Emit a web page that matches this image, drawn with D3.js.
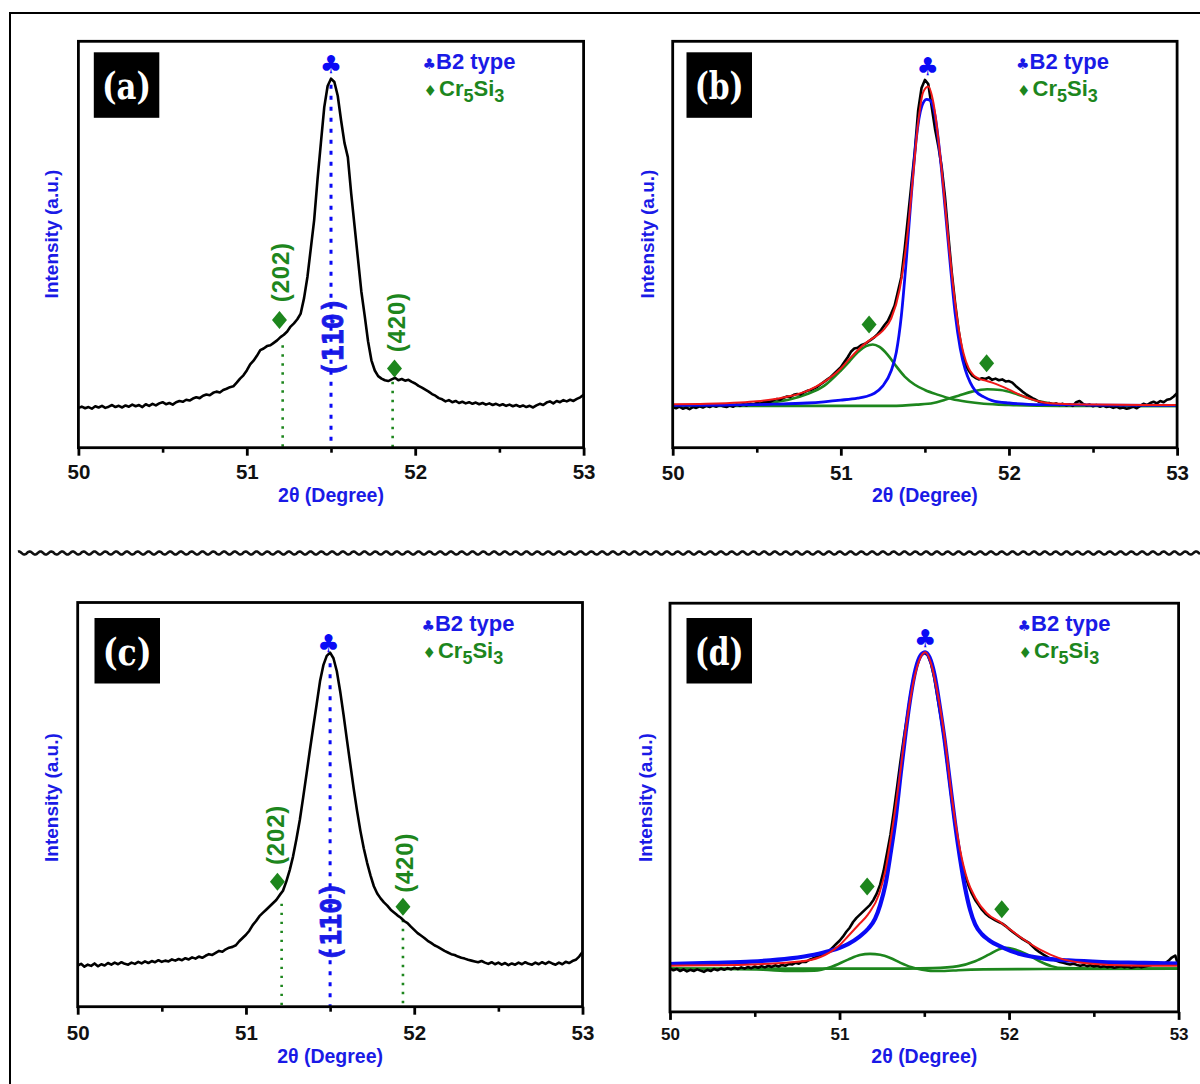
<!DOCTYPE html>
<html><head><meta charset="utf-8">
<script src="https://cdn.jsdelivr.net/npm/d3@7"></script>
<style>
html,body{margin:0;padding:0;background:#fff;}
svg{display:block;}
</style></head>
<body>
<svg id="fig" width="1200" height="1084"></svg>
<script>
// ---------------- DATA ----------------
const xTicks = [50, 51, 52, 53];
const xMinorTicks = [50.5, 51.5, 52.5];
const panelLabels = ["(a)", "(b)", "(c)", "(d)"];
const xTitle = "2θ (Degree)";
const yTitle = "Intensity (a.u.)";
const legendB2 = "B2 type";
const peakLabels = ["(202)", "(110)", "(420)"];

// (a) experimental
const aExp = [[50.00,98],[50.02,101],[50.04,97],[50.06,100],[50.08,96],[50.10,102],[50.12,99],[50.14,103],[50.16,98],[50.18,101],[50.20,105],[50.22,100],[50.24,103],[50.26,99],[50.28,104],[50.30,101],[50.32,106],[50.34,102],[50.36,105],[50.38,100],[50.40,107],[50.42,103],[50.44,108],[50.46,104],[50.48,109],[50.50,112],[50.52,107],[50.54,110],[50.56,106],[50.58,112],[50.60,115],[50.62,113],[50.64,118],[50.66,116],[50.68,121],[50.70,124],[50.72,122],[50.74,128],[50.76,131],[50.78,129],[50.80,135],[50.82,138],[50.84,136],[50.86,142],[50.88,145],[50.90,149],[50.92,151],[50.94,160],[50.96,170],[50.98,178],[51.00,190],[51.02,205],[51.04,214],[51.06,226],[51.08,240],[51.10,244],[51.12,250],[51.14,252],[51.16,258],[51.18,264],[51.20,272],[51.22,278],[51.24,286],[51.26,298],[51.28,306],[51.30,316],[51.32,330],[51.34,368],[51.36,420],[51.38,490],[51.40,560],[51.42,660],[51.44,750],[51.46,838],[51.48,890],[51.50,908],[51.52,900],[51.54,866],[51.56,805],[51.58,750],[51.60,715],[51.62,625],[51.64,545],[51.66,465],[51.68,385],[51.70,325],[51.72,262],[51.74,215],[51.76,190],[51.78,176],[51.80,170],[51.82,166],[51.84,164],[51.86,168],[51.88,172],[51.90,166],[51.92,169],[51.94,165],[51.96,167],[51.98,162],[52.00,158],[52.02,152],[52.04,148],[52.06,143],[52.08,138],[52.10,132],[52.12,128],[52.14,122],[52.16,119],[52.18,114],[52.20,117],[52.22,112],[52.24,115],[52.26,110],[52.28,113],[52.30,109],[52.32,112],[52.34,108],[52.36,111],[52.38,107],[52.40,110],[52.42,106],[52.44,109],[52.46,105],[52.48,108],[52.50,104],[52.52,107],[52.54,103],[52.56,106],[52.58,102],[52.60,105],[52.62,101],[52.64,104],[52.66,100],[52.68,103],[52.70,99],[52.72,104],[52.74,108],[52.76,105],[52.78,111],[52.80,114],[52.82,109],[52.84,115],[52.86,112],[52.88,117],[52.90,114],[52.92,118],[52.94,115],[52.96,120],[52.98,124],[53.00,130]];

// (b) experimental + fits
const bExp = [[50.00,100],[50.02,97],[50.04,101],[50.06,96],[50.08,99],[50.10,95],[50.12,100],[50.14,98],[50.16,102],[50.18,99],[50.20,103],[50.22,100],[50.24,104],[50.26,101],[50.28,105],[50.30,102],[50.32,100],[50.34,104],[50.36,101],[50.38,106],[50.40,103],[50.42,107],[50.44,104],[50.46,108],[50.48,106],[50.50,110],[50.52,108],[50.54,112],[50.56,114],[50.58,113],[50.60,117],[50.62,120],[50.64,118],[50.66,123],[50.68,126],[50.70,125],[50.72,130],[50.74,132],[50.76,131],[50.78,136],[50.80,140],[50.82,142],[50.84,146],[50.86,150],[50.88,156],[50.90,162],[50.92,168],[50.94,174],[50.96,182],[50.98,190],[51.00,198],[51.02,210],[51.04,222],[51.06,236],[51.08,244],[51.10,246],[51.12,252],[51.14,255],[51.16,260],[51.18,266],[51.20,272],[51.22,280],[51.24,290],[51.26,302],[51.28,312],[51.30,330],[51.32,350],[51.34,385],[51.36,420],[51.38,490],[51.40,570],[51.42,650],[51.44,730],[51.46,830],[51.48,885],[51.50,905],[51.52,895],[51.54,840],[51.56,785],[51.58,742],[51.60,690],[51.62,615],[51.64,520],[51.66,430],[51.68,355],[51.70,290],[51.72,240],[51.74,205],[51.76,190],[51.78,178],[51.80,172],[51.82,168],[51.84,171],[51.86,169],[51.88,173],[51.90,167],[51.92,170],[51.94,166],[51.96,168],[51.98,163],[52.00,164],[52.02,160],[52.04,152],[52.06,145],[52.08,138],[52.10,132],[52.12,127],[52.14,122],[52.16,118],[52.18,113],[52.20,111],[52.22,108],[52.24,110],[52.26,106],[52.28,109],[52.30,105],[52.32,108],[52.34,104],[52.36,107],[52.38,103],[52.40,112],[52.42,115],[52.44,108],[52.46,104],[52.48,106],[52.50,102],[52.52,105],[52.54,101],[52.56,104],[52.58,100],[52.60,102],[52.62,98],[52.64,101],[52.66,97],[52.68,99],[52.70,96],[52.72,98],[52.74,101],[52.76,97],[52.78,103],[52.80,108],[52.82,105],[52.84,110],[52.86,113],[52.88,109],[52.90,115],[52.92,112],[52.94,118],[52.96,120],[52.98,126],[53.00,134]];
const bFitSum = [[50.0,107],[50.2,108],[50.4,111],[50.5,114],[50.6,119],[50.7,127],[50.8,140],[50.9,162],[51.0,195],[51.05,218],[51.1,240],[51.15,258],[51.2,272],[51.25,288],[51.3,318],[51.35,390],[51.4,540],[51.43,670],[51.46,800],[51.49,875],[51.52,889],[51.55,850],[51.58,760],[51.61,640],[51.64,510],[51.67,390],[51.70,295],[51.73,232],[51.76,196],[51.79,178],[51.82,170],[51.86,165],[51.90,160],[51.95,152],[52.0,143],[52.05,133],[52.1,124],[52.15,117],[52.2,112],[52.3,108],[52.5,106],[52.8,105],[53.0,105]];
const bFitB2 = [[50.0,104],[50.3,105],[50.6,107],[50.8,110],[50.9,113],[51.0,117],[51.1,122],[51.15,126],[51.2,134],[51.25,152],[51.3,190],[51.33,235],[51.36,325],[51.39,465],[51.42,625],[51.45,765],[51.48,838],[51.51,857],[51.53,855],[51.56,818],[51.59,720],[51.62,590],[51.65,455],[51.68,330],[51.71,245],[51.74,192],[51.77,160],[51.80,140],[51.85,125],[51.90,116],[52.0,110],[52.2,106],[52.5,105],[53.0,104]];
const bFitCr202 = [[50.0,103],[50.2,104],[50.4,106],[50.5,108],[50.6,112],[50.7,119],[50.8,132],[50.9,152],[51.0,190],[51.05,212],[51.1,235],[51.15,250],[51.19,254],[51.23,248],[51.28,228],[51.33,200],[51.38,175],[51.44,155],[51.5,142],[51.58,130],[51.66,120],[51.75,113],[51.85,108],[52.0,105],[52.3,103],[53.0,103]];
const bFitCr420 = [[50.0,103],[50.5,103],[51.0,103],[51.3,103],[51.45,106],[51.55,110],[51.62,118],[51.7,128],[51.78,138],[51.87,144],[51.95,142],[52.03,134],[52.1,124],[52.18,114],[52.26,108],[52.4,104],[52.7,103],[53.0,103]];

// (c) experimental
const cExp = [[50.00,102],[50.02,106],[50.04,99],[50.06,104],[50.08,101],[50.10,107],[50.12,100],[50.14,105],[50.16,102],[50.18,108],[50.20,104],[50.22,109],[50.24,105],[50.26,110],[50.28,106],[50.30,104],[50.32,109],[50.34,106],[50.36,111],[50.38,107],[50.40,112],[50.42,108],[50.44,113],[50.46,110],[50.48,115],[50.50,111],[50.52,114],[50.54,112],[50.56,117],[50.58,114],[50.60,118],[50.62,115],[50.64,120],[50.66,117],[50.68,122],[50.70,119],[50.72,124],[50.74,121],[50.76,126],[50.78,130],[50.80,128],[50.82,133],[50.84,138],[50.86,136],[50.88,142],[50.90,146],[50.92,148],[50.94,152],[50.96,162],[50.98,170],[51.00,178],[51.02,188],[51.04,202],[51.06,212],[51.08,224],[51.10,232],[51.12,240],[51.14,248],[51.16,256],[51.18,264],[51.20,276],[51.22,287],[51.24,310],[51.26,338],[51.28,372],[51.30,415],[51.32,462],[51.34,518],[51.36,576],[51.38,635],[51.40,692],[51.42,748],[51.44,805],[51.46,845],[51.48,868],[51.50,876],[51.52,862],[51.54,830],[51.56,780],[51.58,722],[51.60,660],[51.62,600],[51.64,540],[51.66,485],[51.68,435],[51.70,392],[51.72,356],[51.74,325],[51.76,298],[51.78,280],[51.80,268],[51.82,258],[51.84,250],[51.86,240],[51.88,233],[51.90,226],[51.92,220],[51.94,212],[51.96,207],[51.98,198],[52.00,190],[52.02,182],[52.04,176],[52.06,170],[52.08,163],[52.10,158],[52.12,152],[52.14,148],[52.16,143],[52.18,138],[52.20,134],[52.22,130],[52.24,128],[52.26,124],[52.28,121],[52.30,119],[52.32,116],[52.34,114],[52.36,112],[52.38,110],[52.40,113],[52.42,109],[52.44,106],[52.46,110],[52.48,105],[52.50,109],[52.52,104],[52.54,108],[52.56,103],[52.58,107],[52.60,104],[52.62,109],[52.64,105],[52.66,110],[52.68,106],[52.70,104],[52.72,109],[52.74,105],[52.76,110],[52.78,106],[52.80,111],[52.82,107],[52.84,104],[52.86,109],[52.88,105],[52.90,111],[52.92,108],[52.94,113],[52.96,116],[52.98,124],[53.00,135]];

// (d) experimental + fits
const dExp = [[50.00,106],[50.02,102],[50.04,105],[50.06,100],[50.08,104],[50.10,99],[50.12,103],[50.14,100],[50.16,104],[50.18,101],[50.20,98],[50.22,103],[50.24,100],[50.26,105],[50.28,102],[50.30,106],[50.32,103],[50.34,107],[50.36,104],[50.38,108],[50.40,105],[50.42,109],[50.44,106],[50.46,110],[50.48,107],[50.50,111],[50.52,108],[50.54,112],[50.56,109],[50.58,113],[50.60,110],[50.62,114],[50.64,111],[50.66,115],[50.68,113],[50.70,117],[50.72,116],[50.74,120],[50.76,118],[50.78,123],[50.80,122],[50.82,127],[50.84,130],[50.86,134],[50.88,138],[50.90,141],[50.92,146],[50.94,150],[50.96,158],[50.98,166],[51.00,174],[51.02,184],[51.04,196],[51.06,206],[51.08,220],[51.10,230],[51.12,238],[51.14,246],[51.16,254],[51.18,262],[51.20,274],[51.22,290],[51.24,312],[51.26,345],[51.28,388],[51.30,433],[51.32,490],[51.34,552],[51.36,615],[51.38,672],[51.40,725],[51.42,780],[51.44,824],[51.46,853],[51.48,872],[51.50,879],[51.52,873],[51.54,852],[51.56,815],[51.58,764],[51.60,715],[51.62,662],[51.64,592],[51.66,525],[51.68,462],[51.70,412],[51.72,368],[51.74,335],[51.76,310],[51.78,290],[51.80,274],[51.82,262],[51.84,250],[51.86,241],[51.88,234],[51.90,229],[51.92,224],[51.94,220],[51.96,216],[51.98,210],[52.00,203],[52.02,196],[52.04,190],[52.06,184],[52.08,178],[52.10,173],[52.12,168],[52.14,160],[52.16,152],[52.18,146],[52.20,141],[52.22,136],[52.24,131],[52.26,128],[52.28,125],[52.30,122],[52.32,120],[52.34,118],[52.36,116],[52.38,118],[52.40,115],[52.42,113],[52.44,115],[52.46,112],[52.48,114],[52.50,111],[52.52,113],[52.54,110],[52.56,112],[52.58,109],[52.60,111],[52.62,108],[52.64,110],[52.66,112],[52.68,109],[52.70,111],[52.72,108],[52.74,110],[52.76,112],[52.78,109],[52.80,111],[52.82,113],[52.84,115],[52.86,118],[52.88,120],[52.90,116],[52.92,119],[52.94,125],[52.96,133],[52.98,138],[53.00,112]];
const dFitSum = [[50.0,113],[50.25,114],[50.48,116],[50.7,121],[50.83,127],[50.94,145],[51.0,163],[51.05,185],[51.11,212],[51.167,238],[51.234,289],[51.27,345],[51.30,418],[51.35,560],[51.395,704],[51.44,815],[51.475,865],[51.506,880],[51.54,852],[51.57,798],[51.62,671],[51.665,517],[51.71,399],[51.755,322],[51.80,280],[51.867,242],[51.957,217],[52.07,182],[52.18,153],[52.3,131],[52.43,120],[52.6,115],[52.8,113],[53.0,113]];
const dFitB2 = [[50.0,117],[50.25,120],[50.48,123],[50.71,131],[50.85,140],[50.94,149],[51.05,166],[51.12,185],[51.17,204],[51.21,228],[51.24,262],[51.27,310],[51.30,385],[51.33,470],[51.36,580],[51.39,685],[51.42,775],[51.45,840],[51.48,873],[51.505,880],[51.53,868],[51.56,825],[51.59,750],[51.62,665],[51.65,565],[51.68,465],[51.71,378],[51.74,305],[51.77,250],[51.80,214],[51.84,190],[51.88,176],[51.96,158],[52.07,141],[52.2,131],[52.35,126],[52.55,122],[52.8,120],[53.0,118]];
const dFitCr202 = [[50.0,106],[50.3,105],[50.55,103],[50.72,100],[50.85,101],[50.95,110],[51.05,128],[51.12,139],[51.18,142],[51.24,140],[51.3,132],[51.36,120],[51.42,110],[51.48,104],[51.55,100],[51.62,100],[51.7,102],[51.85,104],[52.2,105],[53.0,106]];
const dFitCr420 = [[50.0,106],[50.5,106],[51.0,106],[51.4,106],[51.55,107],[51.7,112],[51.8,124],[51.88,140],[51.94,153],[51.98,157],[52.03,153],[52.1,142],[52.18,124],[52.25,112],[52.32,107],[52.5,106],[53.0,106]];

// ---------------- STYLE / LAYOUT ----------------
const BLUE_TXT = "#1a1ae6", GREEN = "#1d861d", BLUE = "#0a0af5", RED = "#f01818", BLACK = "#000";
const SANS = "'Liberation Sans', Arial, sans-serif";

const panels = [
  {label:panelLabels[0], left:78.4, right:583.6, top:41.3, bottom:447.7, tickPad:9, tickFont:20.5,
   box:[15.4,11], yT:[51.7,234], xTy:502,
   exp:aExp, fits:null,
   club:[51.5,942], diamonds:[[51.194,314],[51.877,195]],
   blueLine:[51.5,893], greenLines:[[51.213,252],[51.866,162]],
   lab202:[51.203,432], lab420:[51.886,309], lab110:[51.51,272]},
  {label:panelLabels[1], left:672.7, right:1177.1, top:41.3, bottom:447.7, tickPad:9.5, tickFont:20.5,
   box:[13.8,11], yT:[647.8,234], xTy:502,
   exp:bExp, fits:{sum:bFitSum, b2:bFitB2, g1:bFitCr202, g2:bFitCr420, b2w:2.8},
   club:[51.517,939], diamonds:[[51.168,303],[51.867,208]]},
  {label:panelLabels[2], left:77.7, right:582.5, top:602.5, bottom:1006.7, tickPad:11, tickFont:20.5,
   box:[16.8,15.5], yT:[51.7,797.6], xTy:1063,
   exp:cExp, fits:null,
   club:[51.49,899], diamonds:[[51.187,309],[51.933,247]],
   blueLine:[51.5,850], greenLines:[[51.212,255],[51.933,215]],
   lab202:[51.175,425], lab420:[51.944,356], lab110:[51.505,210]},
  {label:panelLabels[3], left:670, right:1178.6, top:603.2, bottom:1011.9, tickPad:8.3, tickFont:17,
   box:[16.5,14.8], yT:[645.9,797.6], xTy:1063,
   exp:dExp, fits:{sum:dFitSum, b2:dFitB2, g1:dFitCr202, g2:dFitCr420, b2w:4.2},
   club:[51.506,913], diamonds:[[51.163,307],[51.957,251]]}
];

const svg = d3.select("#fig");
svg.append("rect").attr("width",1200).attr("height",1084).attr("fill","#fff");

// outer border (left & top only visible)
svg.append("path").attr("d","M10,1084 L10,13 L1200,13").attr("fill","none").attr("stroke","#000").attr("stroke-width",2);

// wavy separator
(function(){
  const pts = [];
  for (let xx = 18; xx <= 1200; xx += 0.5) pts.push([xx, 553 + 1.5*Math.sin(2*Math.PI*xx/10.8)]);
  svg.append("path").attr("d", d3.line()(pts)).attr("fill","none").attr("stroke","#111").attr("stroke-width",2.6);
})();

function diamondPath(cx, cy, hw, hh){
  const p = d3.path();
  p.moveTo(cx, cy-hh); p.lineTo(cx+hw, cy); p.lineTo(cx, cy+hh); p.lineTo(cx-hw, cy); p.closePath();
  return p.toString();
}

panels.forEach(cfg => {
  const x = d3.scaleLinear().domain([50,53]).range([cfg.left, cfg.right]);
  const y = d3.scaleLinear().domain([0,1000]).range([cfg.bottom, cfg.top]);
  const g = svg.append("g");

  g.append("rect").attr("x",cfg.left).attr("y",cfg.top)
    .attr("width",cfg.right-cfg.left).attr("height",cfg.bottom-cfg.top)
    .attr("fill","#fff");

  const line = d3.line().x(d=>x(d[0])).y(d=>y(d[1]));
  const smooth = d3.line().x(d=>x(d[0])).y(d=>y(d[1])).curve(d3.curveMonotoneX);

  if (cfg.lab110) {
    g.append("text").text(peakLabels[1])
      .attr("transform",`translate(${x(cfg.lab110[0])},${y(cfg.lab110[1])}) rotate(-90)`)
      .attr("text-anchor","middle").attr("dominant-baseline","central")
      .attr("font-family","'DejaVu Sans Mono','Liberation Mono',monospace").attr("font-weight","bold")
      .attr("font-size",29).attr("textLength",80).attr("lengthAdjust","spacingAndGlyphs")
      .attr("stroke",BLUE_TXT).attr("stroke-width",0.9).attr("fill",BLUE_TXT);
    g.append("line").attr("x1",x(cfg.blueLine[0])).attr("x2",x(cfg.blueLine[0]))
      .attr("y1",y(cfg.blueLine[1])).attr("y2",y(0))
      .attr("stroke",BLUE).attr("stroke-width",3).attr("stroke-dasharray","4,7");
    cfg.greenLines.forEach(gl => {
      g.append("line").attr("x1",x(gl[0])).attr("x2",x(gl[0]))
        .attr("y1",y(gl[1])).attr("y2",y(0))
        .attr("stroke",GREEN).attr("stroke-width",2.6).attr("stroke-dasharray","2.4,6.6");
    });
    [[peakLabels[0],cfg.lab202],[peakLabels[2],cfg.lab420]].forEach(([t,p]) => {
      g.append("text").text(t)
        .attr("transform",`translate(${x(p[0])},${y(p[1])}) rotate(-90)`)
        .attr("text-anchor","middle").attr("dominant-baseline","central")
        .attr("font-family",SANS).attr("font-weight","bold")
        .attr("font-size",24).attr("letter-spacing",0.8).attr("fill",GREEN);
    });
  }

  // curves
  if (cfg.fits) {
    g.append("path").attr("d",smooth(cfg.fits.g1)).attr("fill","none").attr("stroke",GREEN).attr("stroke-width",2.6);
    g.append("path").attr("d",smooth(cfg.fits.g2)).attr("fill","none").attr("stroke",GREEN).attr("stroke-width",2.6);
  }
  g.append("path").attr("d",line(cfg.exp)).attr("fill","none").attr("stroke",BLACK)
    .attr("stroke-width",2.6).attr("stroke-linejoin","round");
  if (cfg.fits) {
    g.append("path").attr("d",smooth(cfg.fits.b2)).attr("fill","none").attr("stroke",BLUE).attr("stroke-width",cfg.fits.b2w);
    g.append("path").attr("d",smooth(cfg.fits.sum)).attr("fill","none").attr("stroke",RED).attr("stroke-width",2);
  }

  // diamonds on peaks
  cfg.diamonds.forEach(dm => {
    g.append("path").attr("d",diamondPath(x(dm[0]), y(dm[1]), 7.5, 9)).attr("fill",GREEN);
  });
  // club above main peak
  g.append("text").text("♣").attr("x",x(cfg.club[0])).attr("y",y(cfg.club[1]))
    .attr("text-anchor","middle").attr("dominant-baseline","central")
    .attr("font-family","'DejaVu Sans',sans-serif").attr("font-size",25).attr("fill",BLUE);

  // frame
  g.append("rect").attr("x",cfg.left).attr("y",cfg.top)
    .attr("width",cfg.right-cfg.left).attr("height",cfg.bottom-cfg.top)
    .attr("fill","none").attr("stroke","#000").attr("stroke-width",2.8);

  // axes
  const ax = d3.axisBottom(x).tickValues(xTicks).tickSize(8).tickSizeOuter(0)
    .tickPadding(cfg.tickPad).tickFormat(d3.format("d"));
  const axg = g.append("g").attr("transform",`translate(0,${cfg.bottom})`).call(ax);
  axg.select(".domain").remove();
  axg.selectAll(".tick line").attr("stroke","#000").attr("stroke-width",2.8);
  axg.selectAll(".tick text").attr("font-family",SANS).attr("font-weight","bold")
    .attr("font-size",cfg.tickFont).attr("fill","#111");
  const axm = d3.axisBottom(x).tickValues(xMinorTicks).tickSize(5).tickSizeOuter(0).tickFormat("");
  const axmg = g.append("g").attr("transform",`translate(0,${cfg.bottom})`).call(axm);
  axmg.select(".domain").remove();
  axmg.selectAll(".tick line").attr("stroke","#000").attr("stroke-width",2.6);

  // axis titles
  g.append("text").text(xTitle).attr("x",(cfg.left+cfg.right)/2).attr("y",cfg.xTy)
    .attr("text-anchor","middle").attr("font-family",SANS).attr("font-weight","bold")
    .attr("font-size",19.5).attr("fill",BLUE_TXT);
  g.append("text").text(yTitle)
    .attr("transform",`translate(${cfg.yT[0]},${cfg.yT[1]}) rotate(-90)`)
    .attr("text-anchor","middle").attr("dominant-baseline","central")
    .attr("font-family",SANS).attr("font-weight","bold").attr("font-size",19).attr("fill",BLUE_TXT);

  // panel label box
  const bx = cfg.left + cfg.box[0], by = cfg.top + cfg.box[1];
  g.append("rect").attr("x",bx).attr("y",by).attr("width",65.5).attr("height",65.5).attr("fill","#000");
  g.append("text").text(cfg.label).attr("x",bx+32.7).attr("y",by+47)
    .attr("text-anchor","middle").attr("font-family","'DejaVu Serif',serif")
    .attr("font-weight","bold").attr("font-size",38)
    .attr("textLength",49).attr("lengthAdjust","spacingAndGlyphs").attr("fill","#fff");

  // legend
  const lx = cfg.right - 161, ly1 = cfg.top + 28, ly2 = cfg.top + 55;
  const t1 = g.append("text").attr("x",lx).attr("y",ly1).attr("font-family",SANS)
    .attr("font-weight","bold").attr("fill",BLUE_TXT);
  t1.append("tspan").text("♣").attr("font-family","'DejaVu Sans',sans-serif").attr("font-size",15);
  t1.append("tspan").text(legendB2).attr("font-size",22);
  const t2 = g.append("text").attr("x",lx+1).attr("y",ly2).attr("font-family",SANS)
    .attr("font-weight","bold").attr("fill",GREEN);
  t2.append("tspan").text("♦").attr("font-family","'DejaVu Sans',sans-serif").attr("font-size",15);
  t2.append("tspan").text("Cr").attr("font-size",22).attr("dx",2);
  t2.append("tspan").text("5").attr("font-size",18).attr("dy",6);
  t2.append("tspan").text("Si").attr("font-size",22).attr("dy",-6);
  t2.append("tspan").text("3").attr("font-size",18).attr("dy",6);
});
</script>
</body></html>
